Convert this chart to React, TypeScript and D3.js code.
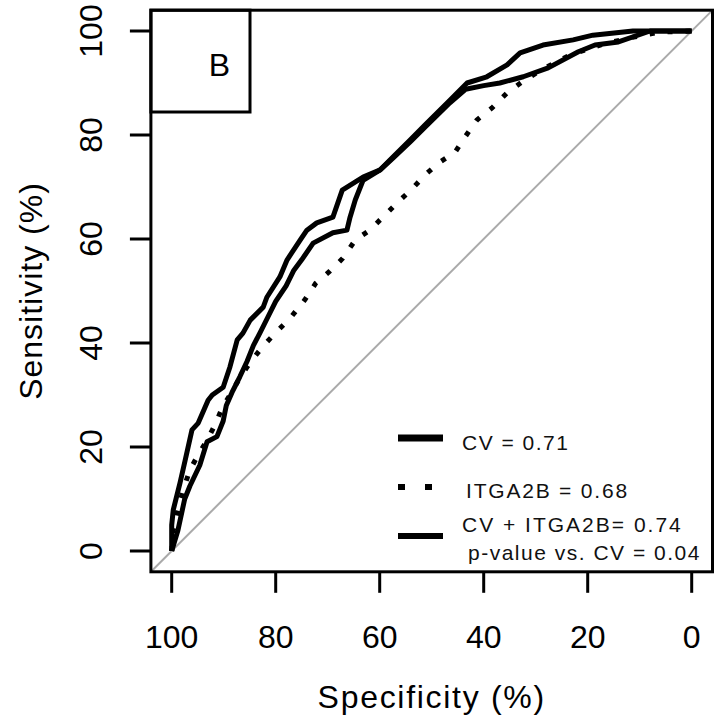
import React from "react";
import * as d3 from "d3";

// ROC data (specificity %, sensitivity %)
const specCombined = [100, 100, 99.7, 98.4, 97.4, 96.1, 94.9, 93.0, 92.2, 90.1, 88.8, 87.4, 86.3, 84.9, 82.4, 81.7, 79.2, 77.8, 75.3, 74.0, 72.1, 69.0, 67.2, 63.2, 59.9, 57.4, 54.2, 51.3, 46.5, 43.2, 39.4, 35.5, 33.0, 28.6, 22.8, 19.0, 11.3, 0];
const sensCombined = [0, 5, 7.9, 13.1, 17.5, 23.3, 24.6, 29.0, 30.0, 31.5, 35.4, 40.6, 41.9, 44.4, 46.9, 48.8, 52.7, 56.0, 59.8, 61.7, 63.1, 64.2, 69.4, 71.9, 73.3, 75.8, 79.0, 81.9, 86.7, 90.0, 91.2, 93.5, 95.8, 97.3, 98.3, 99.2, 100, 100];

const specCV = [100, 98.8, 97.5, 96.5, 94.6, 93.2, 91.3, 90.1, 89.5, 88.4, 86.9, 85.5, 84.3, 83.0, 81.5, 80.0, 78.0, 76.5, 75.0, 72.8, 69.0, 66.3, 65.7, 64.7, 63.2, 59.9, 57.4, 54.2, 51.3, 46.5, 43.5, 40.0, 36.9, 32.4, 27.6, 21.8, 18.6, 14.1, 8.0, 0];
const sensCV = [0, 4, 10, 12.5, 16.5, 21, 22, 25, 28, 30.5, 33.5, 36.5, 39.5, 42, 45, 48, 51, 54, 56, 59.2, 61.2, 61.7, 64.2, 67.5, 71.3, 73.3, 75.6, 78.6, 81.5, 86.2, 88.8, 89.5, 90.0, 91.2, 92.9, 96.0, 97.3, 97.9, 100, 100];

const specITGA = [100, 99.7, 98.8, 97.8, 96.5, 94.9, 93.2, 91.7, 90.3, 88.8, 86.9, 84.9, 82.6, 80.1, 77.2, 74.4, 72.3, 69.7, 67.1, 64.7, 61.9, 59.4, 56.5, 54.0, 51.3, 48.4, 45.5, 43.6, 41.3, 38.4, 35.5, 32.1, 28.2, 23.4, 17.6, 11.9, 6.1, 0];
const sensITGA = [0, 4.0, 7.9, 11.7, 15.6, 18.5, 21.3, 24.2, 27.5, 30.0, 33.3, 36.3, 39.2, 41.9, 44.8, 48.3, 51.5, 53.7, 56.3, 59.8, 61.7, 64.2, 67.1, 69.4, 72.3, 74.8, 76.7, 79.6, 82.9, 85.2, 88.1, 90.6, 92.9, 95.4, 97.3, 98.7, 99.8, 100];

const xTicks = [100, 80, 60, 40, 20, 0];
const yTicks = [0, 20, 40, 60, 80, 100];

const legendLabels = ["CV = 0.71", "ITGA2B = 0.68", "CV + ITGA2B= 0.74", "p-value vs. CV = 0.04"];

const FONT = "'Liberation Sans', Arial, Helvetica, sans-serif";

export default function App() {
  const x = d3.scaleLinear().domain([100, 0]).range([171.7, 691.7]);
  const y = d3.scaleLinear().domain([0, 100]).range([551, 31]);
  const x0 = x(104), x1 = x(-4), y0 = y(-4), y1 = y(104);

  const line = d3
    .line<[number, number]>()
    .x((d) => x(d[0]))
    .y((d) => y(d[1]));

  const zip = (a: number[], b: number[]) => a.map((v, i) => [v, b[i]] as [number, number]);

  return (
    <svg
      width={724}
      height={721}
      style={{ position: "absolute", left: 0, top: 0, background: "#fff" }}
      fontFamily={FONT}
    >
      <rect x={0} y={0} width={724} height={721} fill="#fff" />
      <defs>
        <clipPath id="plotclip">
          <rect x={x0} y={y1} width={x1 - x0} height={y0 - y1} />
        </clipPath>
      </defs>
      {/* diagonal */}
      <g clipPath="url(#plotclip)">
        <line x1={x(104)} y1={y(-4)} x2={x(-4)} y2={y(104)} stroke="#aaaaaa" strokeWidth={2} />
      </g>
      {/* curves */}
      <path d={line(zip(specITGA, sensITGA)) || ""} fill="none" stroke="#000" strokeWidth={5} strokeDasharray="5 13" />
      <path d={line(zip(specCV, sensCV)) || ""} fill="none" stroke="#000" strokeWidth={5} strokeLinejoin="round" />
      <path d={line(zip(specCombined, sensCombined)) || ""} fill="none" stroke="#000" strokeWidth={5} strokeLinejoin="round" />

      {/* plot box */}
      <rect x={x0} y={y1} width={x1 - x0} height={y0 - y1} fill="none" stroke="#000" strokeWidth={3} />

      {/* panel label box */}
      <rect x={x0} y={y1} width={250 - x0} height={112 - y1} fill="none" stroke="#000" strokeWidth={3} />
      <text x={219.5} y={76} fontSize={32} textAnchor="middle" fill="#000">B</text>

      {/* x axis */}
      {xTicks.map((t) => (
        <g key={"x" + t}>
          <line x1={x(t)} x2={x(t)} y1={y0} y2={y0 + 21} stroke="#000" strokeWidth={3} />
          <text x={x(t)} y={648} fontSize={32} textAnchor="middle" fill="#000">{t}</text>
        </g>
      ))}
      <text x={(x0 + x1) / 2} y={708} fontSize={32} textAnchor="middle" letterSpacing={1.7} fill="#000">
        Specificity (%)
      </text>

      {/* y axis */}
      {yTicks.map((t) => (
        <g key={"y" + t}>
          <line x1={x0 - 21} x2={x0} y1={y(t)} y2={y(t)} stroke="#000" strokeWidth={3} />
          <text transform={`translate(102,${y(t)}) rotate(-90)`} fontSize={32} textAnchor="middle" fill="#000">{t}</text>
        </g>
      ))}
      <text transform={`translate(42,${(y0 + y1) / 2}) rotate(-90)`} fontSize={32} textAnchor="middle" letterSpacing={1} fill="#000">
        Sensitivity (%)
      </text>

      {/* legend */}
      <line x1={398} x2={443} y1={438} y2={438} stroke="#000" strokeWidth={7} />
      <line x1={398} x2={443} y1={487} y2={487} stroke="#000" strokeWidth={6} strokeDasharray="7 20" />
      <line x1={398} x2={443} y1={536} y2={536} stroke="#000" strokeWidth={6} />
      <text x={462} y={450} fontSize={21} letterSpacing={1.5} fill="#111">{legendLabels[0]}</text>
      <text x={466} y={498} fontSize={21} letterSpacing={1.8} fill="#111">{legendLabels[1]}</text>
      <text x={462} y={532} fontSize={21} letterSpacing={2} fill="#111">{legendLabels[2]}</text>
      <text x={468} y={560} fontSize={21} letterSpacing={1.5} fill="#111">{legendLabels[3]}</text>
    </svg>
  );
}
